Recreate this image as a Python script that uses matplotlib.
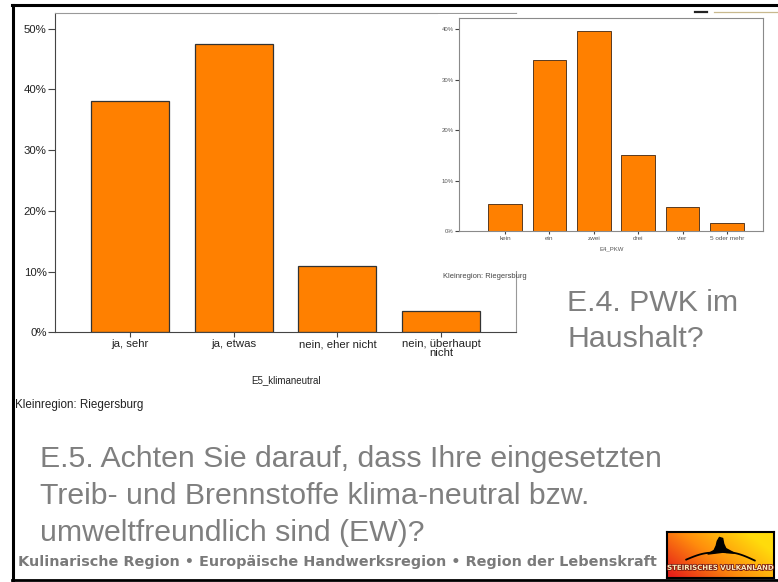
import matplotlib.pyplot as plt
import numpy as np
import matplotlib.patheffects as pe
from matplotlib.lines import Line2D
from matplotlib.patches import Rectangle, Polygon

# main chart: E5_klimaneutral
main_cats = ["ja, sehr", "ja, etwas", "nein, eher nicht", "nein, überhaupt\nnicht"]
main_vals = [38.1, 47.5, 11.0, 3.5]
main_ticks = [0, 10, 20, 30, 40, 50]

# inset chart: E4_PKW
pkw_cats = ["kein", "ein", "zwei", "drei", "vier", "5 oder mehr"]
pkw_vals = [5.4, 33.9, 39.7, 15.0, 4.7, 1.6]
pkw_ticks = [0, 10, 20, 30, 40]

W, H = 778, 582
ORANGE = "#ff8000"
SANS = ["Liberation Sans", "DejaVu Sans"]

fig = plt.figure(figsize=(W / 100, H / 100), dpi=100)
fig.patch.set_facecolor("white")


def px_axes(x0, y0, x1, y1, **kw):
    return fig.add_axes([x0 / W, 1 - y1 / H, (x1 - x0) / W, (y1 - y0) / H], **kw)


def fx(x):
    return x / W


def fy(y):
    return 1 - y / H


def style_axes(ax, fs, tick_len, lab_color):
    for s in ["left", "bottom"]:
        ax.spines[s].set_color("#444444")
    for s in ["top", "right"]:
        ax.spines[s].set_color("#999999")
    ax.tick_params(axis="y", length=tick_len, width=0.8, color="#444444",
                   labelsize=fs, labelcolor=lab_color, pad=1)
    ax.tick_params(axis="x", length=tick_len * 0.7, width=0.8, color="#444444",
                   labelsize=fs, labelcolor=lab_color, pad=1.5)
    for lab in ax.get_xticklabels() + ax.get_yticklabels():
        lab.set_family(SANS)


# main chart
ax = px_axes(55, 12.7, 516, 332.3, zorder=0)
x = np.arange(len(main_cats))
ax.bar(x, main_vals, width=0.75, color=ORANGE, edgecolor="#333333", linewidth=0.9)
ax.set_xlim(-0.72, 3.72)
ax.set_ylim(0, 52.65)
ax.set_yticks(main_ticks)
ax.set_yticklabels([f"{t}%" for t in main_ticks])
ax.set_xticks(x)
ax.set_xticklabels(main_cats, linespacing=0.9)
style_axes(ax, 8.2, 5, "#222222")
ax.set_xlabel("E5_klimaneutral", fontsize=7, family=SANS, color="#222222", labelpad=12)
fig.text(fx(15), fy(405), "Kleinregion: Riegersburg", fontsize=8.4, family=SANS,
         color="#222222", va="center", ha="left")

# white backing of the pasted inset picture
fig.add_artist(Rectangle((fx(438), fy(271)), fx(778) - fx(438), fy(14) - fy(271),
                         transform=fig.transFigure, facecolor="white",
                         edgecolor="none", zorder=1))

# inset chart
ax2 = px_axes(459.3, 18.3, 763.3, 231, zorder=2)
x2 = np.arange(len(pkw_cats))
ax2.bar(x2, pkw_vals, width=0.76, color=ORANGE, edgecolor="#5a3a20", linewidth=0.7)
ax2.set_xlim(-1.03, 5.82)
ax2.set_ylim(0, 42.2)
ax2.set_yticks(pkw_ticks)
ax2.set_yticklabels([f"{t}%" for t in pkw_ticks])
ax2.set_xticks(x2)
ax2.set_xticklabels(pkw_cats)
style_axes(ax2, 4.6, 3, "#555555")
ax2.tick_params(axis="y", labelsize=4.3)
for s in ax2.spines.values():
    s.set_color("#8a8a8a")
ax2.set_xlabel("E4_PKW", fontsize=4.3, family=SANS, color="#555555", labelpad=4)
fig.text(fx(443), fy(276), "Kleinregion: Riegersburg", fontsize=5.4, family=SANS,
         color="#444444", va="center", ha="left", zorder=3)

# slide frame and small header marks
frame = dict(transform=fig.transFigure, color="black", zorder=5)
fig.add_artist(Line2D([fx(12.5), fx(12.5)], [fy(5), fy(580)], lw=2.2, **frame))
fig.add_artist(Line2D([fx(12), fx(778)], [fy(5), fy(5)], lw=2.2, **frame))
fig.add_artist(Line2D([fx(12), fx(778)], [fy(580), fy(580)], lw=2.0, **frame))
fig.add_artist(Line2D([fx(695), fx(707)], [fy(11.5), fy(11.5)], lw=1.6,
                      transform=fig.transFigure, color="#222222", zorder=5))
fig.add_artist(Line2D([fx(714), fx(778)], [fy(12), fy(12)], lw=0.9,
                      transform=fig.transFigure, color="#c8b98e", zorder=5))

# slide texts
GREY = "#7f7f7f"
fig.text(fx(567), fy(311), "E.4. PWK im", fontsize=21.8, family=SANS, color=GREY,
         va="baseline", ha="left")
fig.text(fx(567), fy(347), "Haushalt?", fontsize=21.8, family=SANS, color=GREY,
         va="baseline", ha="left")
title_lines = ["E.5. Achten Sie darauf, dass Ihre eingesetzten",
               "Treib- und Brennstoffe klima-neutral bzw.",
               "umweltfreundlich sind (EW)?"]
for i, line in enumerate(title_lines):
    fig.text(fx(40), fy(467 + 37 * i), line, fontsize=21.8, family=SANS, color=GREY,
             va="baseline", ha="left")
fig.text(fx(18), fy(566), "Kulinarische Region • Europäische Handwerksregion • Region der Lebenskraft",
         fontsize=10.4, family="DejaVu Sans", weight="bold", color="#7a7a7a",
         va="baseline", ha="left")

# logo
lg = px_axes(667, 532, 774, 578, zorder=4)
gx = np.linspace(0, 1, 200)
gy = np.linspace(0, 1, 60)
GX, GY = np.meshgrid(gx, gy)
t = np.clip(0.8 * GX + 0.45 * GY - 0.05, 0, 1)
red = np.array([0.90, 0.12, 0.10])
orange = np.array([1.0, 0.55, 0.05])
yellow = np.array([1.0, 0.86, 0.05])
img = np.where(t[..., None] < 0.5,
               red + (orange - red) * (t[..., None] / 0.5),
               orange + (yellow - orange) * ((t[..., None] - 0.5) / 0.5))
lg.imshow(img, extent=(0, 1, 0, 1), origin="lower", aspect="auto")
lg.set_xlim(0, 1)
lg.set_ylim(0, 1)
lg.set_xticks([])
lg.set_yticks([])
for s in lg.spines.values():
    s.set_color("black")
    s.set_linewidth(1.5)
lg.add_patch(Polygon([[0.38, 0.52], [0.44, 0.60], [0.46, 0.70], [0.47, 0.80],
                      [0.49, 0.88], [0.52, 0.86], [0.53, 0.74], [0.55, 0.64],
                      [0.63, 0.54], [0.52, 0.56]],
                     closed=True, facecolor="black", edgecolor="black"))
arc = np.linspace(0, 1, 40)
lg.plot(0.18 + 0.24 * arc, 0.40 + 0.15 * np.sin(arc * np.pi / 2), color="black", lw=1.3)
lg.plot(0.56 + 0.26 * arc, 0.56 - 0.18 * (1 - np.cos(arc * np.pi / 2)), color="black", lw=1.3)
lg.text(0.5, 0.22, "STEIRISCHES VULKANLAND", fontsize=5.0, family="DejaVu Sans",
        weight="bold", color="#fff2c0", ha="center", va="center",
        path_effects=[pe.withStroke(linewidth=1.2, foreground="#7a1a10")])

fig.savefig("out.png", dpi=100)
